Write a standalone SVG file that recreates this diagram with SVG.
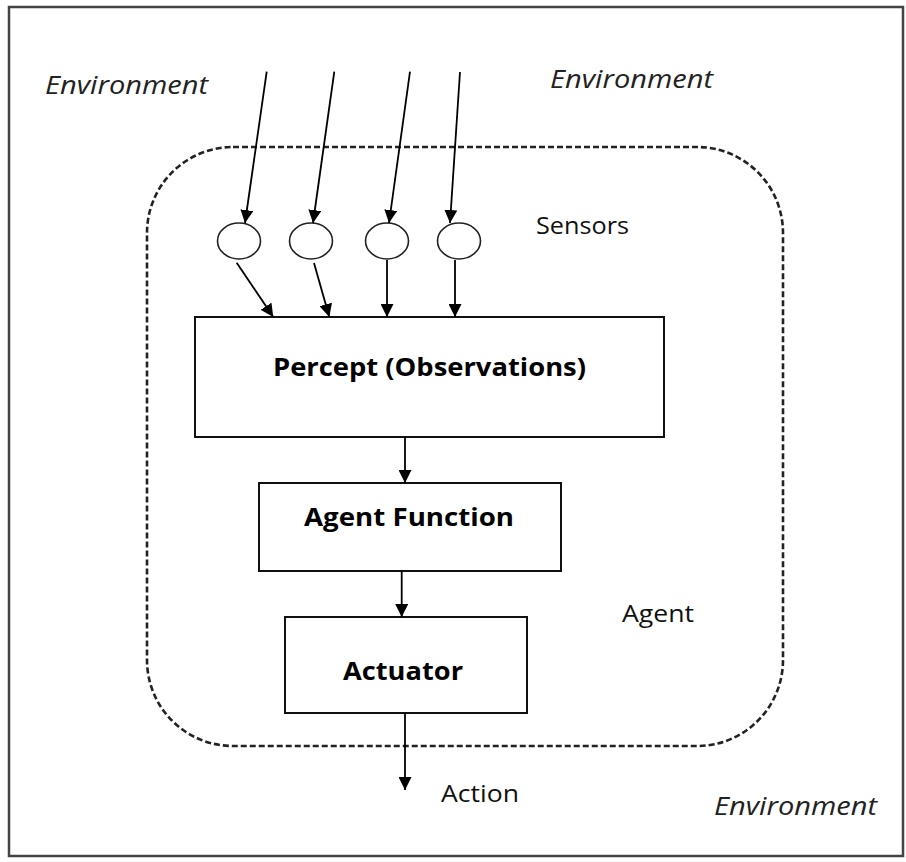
<svg xmlns="http://www.w3.org/2000/svg" width="906" height="862" viewBox="0 0 906 862">
<style>
.lbl{font-family:"Open Sans","Liberation Sans",sans-serif;font-size:24px;fill:#111}
.env{font-family:"Open Sans","Liberation Sans",sans-serif;font-size:26px;font-style:italic;fill:#222}
.bold{font-family:"Open Sans","Liberation Sans",sans-serif;font-size:25px;font-weight:bold;fill:#000}
.box{fill:#fff;stroke:#111;stroke-width:2}
.sensor{fill:#fff;stroke:#222;stroke-width:1.6}
.conn line{stroke:#000;stroke-width:1.8;marker-end:url(#arr)}
</style>
<defs>
<marker id="arr" markerUnits="userSpaceOnUse" markerWidth="13" markerHeight="13" refX="13" refY="6.5" orient="auto">
<path d="M0,0 L13,6.5 L0,13 z" fill="#000"/>
</marker>
</defs>
<rect width="906" height="862" fill="#fff"/>
<rect id="frame" x="9" y="7" width="894" height="849" fill="none" stroke="#444" stroke-width="2.5"/>
<g id="agent-boundary">
<rect x="147" y="147" width="636" height="599" rx="86" ry="86" fill="none" stroke="#222" stroke-width="2.6" stroke-dasharray="6,3"/>
<text class="lbl" x="622" y="622" textLength="72" lengthAdjust="spacingAndGlyphs">Agent</text>
</g>
<g id="env-labels">
<text class="env" x="45" y="94" textLength="163" lengthAdjust="spacingAndGlyphs">Environment</text>
<text class="env" x="550" y="88" textLength="163" lengthAdjust="spacingAndGlyphs">Environment</text>
<text class="env" x="714" y="815" textLength="163" lengthAdjust="spacingAndGlyphs">Environment</text>
</g>
<g id="sensors">
<ellipse class="sensor" cx="239" cy="241" rx="21.5" ry="18"/>
<ellipse class="sensor" cx="311" cy="241" rx="21.5" ry="18"/>
<ellipse class="sensor" cx="387" cy="241" rx="21.5" ry="18"/>
<ellipse class="sensor" cx="459" cy="241" rx="21.5" ry="18"/>
<text class="lbl" x="536" y="234" textLength="93" lengthAdjust="spacingAndGlyphs">Sensors</text>
</g>
<g id="percept">
<rect class="box" x="195" y="317" width="469" height="120"/>
<text class="bold" x="273" y="376" textLength="313" lengthAdjust="spacingAndGlyphs">Percept (Observations)</text>
</g>
<g id="agent-function">
<rect class="box" x="259" y="483" width="302" height="88"/>
<text class="bold" x="304" y="526" textLength="210" lengthAdjust="spacingAndGlyphs">Agent Function</text>
</g>
<g id="actuator">
<rect class="box" x="285" y="617" width="242" height="96"/>
<text class="bold" x="343" y="680" textLength="120" lengthAdjust="spacingAndGlyphs">Actuator</text>
</g>
<g id="action">
<text class="lbl" x="441" y="802" textLength="78" lengthAdjust="spacingAndGlyphs">Action</text>
</g>
<g id="connectors" class="conn">
<line x1="266.7" y1="71.7" x2="245" y2="223"/>
<line x1="334.3" y1="71.7" x2="313" y2="223"/>
<line x1="410" y1="71.7" x2="389" y2="223"/>
<line x1="460" y1="72" x2="450" y2="223"/>
<line x1="236.7" y1="262.7" x2="273.3" y2="317"/>
<line x1="314" y1="263" x2="329.3" y2="317"/>
<line x1="387" y1="260" x2="387" y2="317"/>
<line x1="455" y1="260" x2="455" y2="317"/>
<line x1="405" y1="437" x2="405" y2="483"/>
<line x1="401.7" y1="571" x2="401.7" y2="617"/>
<line x1="405" y1="713" x2="405" y2="790"/>
</g>
</svg>
